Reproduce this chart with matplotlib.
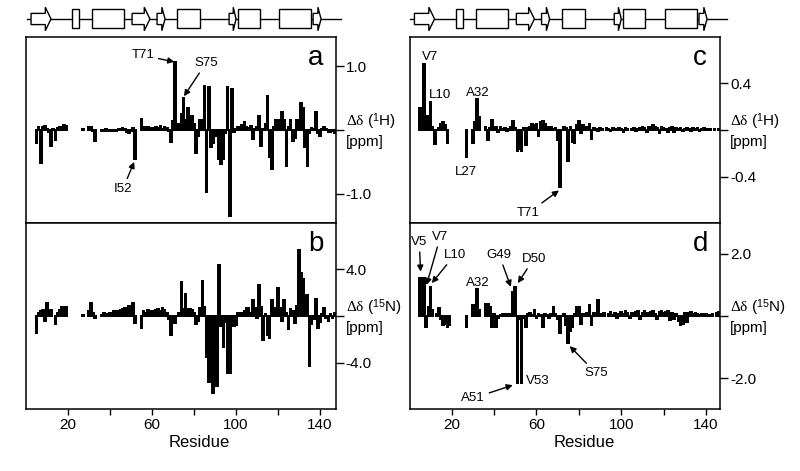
import matplotlib.pyplot as plt
import numpy as np
from matplotlib.patches import Polygon, Rectangle

plt.rcParams['font.family'] = ['Liberation Sans', 'DejaVu Sans']
plt.rcParams['mathtext.fontset'] = 'custom'
plt.rcParams['mathtext.rm'] = 'Liberation Serif'
plt.rcParams['mathtext.it'] = 'Liberation Serif:italic'
plt.rcParams['mathtext.sf'] = 'Liberation Sans'

n = np.nan
residues = np.arange(1, 148)

# chemical shift changes, residues 1..147 (nan = not observed)
dh_a = [n, n, n, n, -0.20, 0.05, -0.52, 0.05, 0.06, 0.02,
        -0.03, -0.25, 0.02, -0.15, 0.03, 0.05, 0.04, 0.08, 0.07, n,
        n, n, n, n, n, n, 0.01, n, n, 0.05,
        0.04, -0.02, -0.17, n, n, -0.02, -0.01, 0.01, -0.01, -0.02,
        -0.02, -0.02, -0.01, 0.01, 0.02, 0.03, 0.02, -0.03, -0.04, -0.02,
        0.03, -0.45, n, n, 0.17, 0.05, 0.04, 0.04, 0.02, 0.03,
        0.02, 0.05, 0.03, 0.06, 0.02, 0.04, 0.03, -0.02, -0.19, 0.14,
        1.07, n, 0.10, 0.25, 0.51, 0.15, 0.35, 0.20, 0.22, 0.10,
        -0.36, -0.10, 0.15, 0.15, 0.69, -0.98, 0.67, -0.27, -0.20, -0.05,
        -0.10, -0.45, -0.53, -0.45, -0.05, 0.67, -1.35, 0.64, -0.03, 0.02,
        0.05, 0.03, 0.08, 0.13, 0.05, 0.03, 0.06, -0.14, 0.02, 0.05,
        0.22, -0.25, 0.02, 0.10, 0.54, -0.43, -0.61, 0.05, 0.15, 0.15,
        0.05, 0.28, 0.15, -0.56, 0.05, 0.15, -0.17, -0.12, 0.15, 0.05,
        0.42, 0.34, -0.27, -0.56, -0.05, 0.03, 0.02, 0.29, -0.05, -0.10,
        0.02, 0.05, 0.01, -0.03, -0.03, -0.02, -0.05]

dn_a = [n, n, n, n, -1.5, 0.3, 0.4, 0.5, -0.4, 1.1,
        n, 0.5, n, -0.7, 0.3, 0.5, 0.8, 0.5, 0.8, n,
        n, n, n, n, n, n, 0.05, n, n, 0.4,
        1.1, 0.3, -0.15, n, n, 0.1, 0.3, 0.2, 0.2, 0.3,
        0.3, 0.4, 0.4, 0.4, 0.5, 0.6, 0.7, 0.6, 0.9, 0.7,
        1.15, -0.6, n, n, -1.0, 0.4, 0.3, 0.5, 0.2, 0.4,
        0.3, 0.5, 0.6, 0.4, 0.7, 0.5, 0.3, -0.3, -1.6, -0.6,
        -0.6, n, 0.3, 2.9, 0.6, 1.9, 0.6, 0.6, 0.5, 0.3,
        -0.7, -0.4, 0.7, 3.0, 0.8, -3.5, -5.7, -3.5, -6.6, -3.5,
        -6.0, 4.4, -0.9, -2.7, -0.5, -4.9, -4.9, -0.9, -0.9, -0.8,
        0.3, 0.2, 0.3, 0.4, 0.7, 0.7, 0.3, 1.4, 0.7, -0.2,
        2.7, 0.8, -2.1, 0.2, -1.6, -1.9, 1.4, 0.7, 0.7, 2.4,
        0.7, -0.4, 1.4, 0.3, -1.1, 0.6, 0.4, -0.6, 0.9, 5.7,
        3.7, 3.2, 1.8, 1.8, -4.3, -0.7, -0.3, 1.5, -1.0, -0.5,
        0.2, 0.7, -0.2, -0.4, 0.2, -0.2, 0.3]

dh_b = [n, n, n, n, 0.19, 0.19, 0.57, 0.12, 0.12, 0.24,
        0.03, -0.12, n, 0.02, 0.05, 0.07, 0.04, -0.11, n, n,
        n, n, n, n, n, n, -0.23, n, n, -0.11,
        0.07, 0.27, 0.11, n, n, 0.03, -0.09, 0.02, 0.09, 0.01,
        0.03, -0.02, 0.03, 0.01, 0.02, -0.01, 0.01, 0.03, 0.08, 0.02,
        -0.18, -0.16, -0.18, 0.02, -0.13, 0.02, 0.03, 0.05, 0.04, 0.05,
        -0.05, 0.07, 0.08, 0.05, 0.03, 0.02, 0.03, 0.01, 0.02, -0.09,
        -0.49, n, 0.03, 0.02, -0.27, 0.03, -0.10, -0.11, 0.04, 0.08,
        -0.03, 0.04, 0.02, 0.03, 0.05, -0.08, 0.02, 0.01, -0.01, 0.02,
        0.01, n, 0.02, 0.01, -0.01, 0.02, n, 0.01, 0.02, 0.01,
        -0.02, 0.02, 0.01, n, 0.01, 0.02, -0.01, 0.01, 0.02, 0.03,
        0.02, -0.02, 0.03, 0.01, 0.04, 0.03, 0.02, -0.03, 0.03, 0.02,
        0.01, -0.02, 0.02, 0.03, -0.02, 0.02, 0.01, 0.02, -0.01, 0.01,
        0.02, 0.01, -0.01, 0.02, 0.01, 0.02, -0.01, 0.01, 0.02, 0.01,
        n, 0.005, n, 0.005, n, 0.005, n]

dn_b = [n, n, n, n, 1.22, 1.22, 1.22, -0.35, 0.3, 0.95,
        0.2, n, 0.05, 0.25, -0.1, -0.3, -0.25, -0.35, -0.3, n,
        n, n, n, n, n, n, -0.35, n, n, 0.35,
        0.1, 0.87, 0.2, n, n, 0.4, 0.4, 0.28, -0.35, 0.05,
        -0.36, -0.05, 0.03, 0.05, 0.08, 0.05, 0.08, 0.03, 0.78, 0.95,
        -2.17, -0.1, -2.15, -0.05, -0.35, 0.05, 0.1, 0.03, 0.2, -0.05,
        0.05, 0.03, -0.35, 0.05, 0.03, -0.05, 0.05, 0.3, 0.05, -0.1,
        -0.55, n, 0.05, -0.3, -0.88, -0.5, -0.35, 0.05, 0.3, 0.3,
        -0.25, 0.05, 0.02, 0.1, 0.35, -0.3, 0.1, 0.05, 0.5, 0.08,
        0.05, 0.1, n, 0.05, 0.12, 0.03, 0.1, -0.05, 0.08, 0.12,
        0.05, 0.15, 0.1, -0.08, 0.1, 0.05, 0.12, 0.15, -0.1, 0.1,
        0.15, 0.1, 0.05, 0.12, 0.15, 0.08, -0.1, 0.12, 0.15, 0.1,
        0.12, 0.15, -0.12, 0.1, -0.1, 0.08, -0.15, -0.3, -0.25, 0.1,
        -0.18, 0.1, 0.12, 0.08, 0.1, 0.05, 0.03, 0.05, 0.02, 0.05,
        n, 0.03, 0.05, n, 0.1, 0.12, n]

# secondary structure elements along the sequence
ss_kind = ['strand', 'helix', 'helix', 'strand', 'strand', 'helix',
           'strand', 'helix', 'helix', 'strand']
ss_start = [2.4, 21.9, 31.4, 50.5, 62.4, 71.9, 96.7, 100.9, 120.5, 136.7]
ss_end = [11.9, 25.2, 46.7, 59.0, 66.2, 82.9, 100.0, 111.4, 135.7, 140.5]

# labelled residues: (text, bar x, bar y, text x, text y, arrow)
notes_a = [('T71', 70.6, 1.07, 55.7, 1.17, True),
           ('S75', 75.2, 0.53, 85.7, 1.05, True),
           ('I52', 51.5, -0.50, 46.2, -0.92, True)]
notes_b = []
notes_c = [('V7', 0, 0, 9.6, 0.63, False),
           ('L10', 0, 0, 14.4, 0.30, False),
           ('A32', 0, 0, 32.1, 0.32, False),
           ('L27', 0, 0, 26.9, -0.36, False),
           ('T71', 70.6, -0.52, 56.3, -0.71, True)]
notes_d = [('V5', 5.3, 1.43, 4.7, 2.39, True),
           ('V7', 8.1, 1.0, 14.6, 2.55, True),
           ('L10', 10.6, 1.06, 21.4, 1.97, True),
           ('A32', 0, 0, 32.1, 1.06, False),
           ('G49', 47.9, 0.94, 42.4, 1.97, True),
           ('D50', 51.2, 1.06, 58.7, 1.84, True),
           ('A51', 48.8, -2.23, 30.2, -2.65, True),
           ('V53', 0, 0, 60.6, -2.10, False),
           ('S75', 75.7, -0.97, 88.0, -1.84, True)]

fig = plt.figure(figsize=(8, 4.71), dpi=100)

col_x = [0.0325, 0.513]
col_xlim = [(0, 147.6), (0.5, 146.8)]
top_y, bot_y, ph = 0.5265, 0.1316, 0.395

panels = [
    (0, top_y, dh_a, 1.46, [-1.0, 0, 1.0], ['-1.0', '', '1.0'], '1', 'H', 'a', notes_a),
    (0, bot_y, dn_a, 8.0, [-4.0, 0, 4.0], ['-4.0', '', '4.0'], '15', 'N', 'b', notes_b),
    (1, top_y, dh_b, 0.80, [-0.4, 0, 0.4], ['-0.4', '', '0.4'], '1', 'H', 'c', notes_c),
    (1, bot_y, dn_b, 3.0, [-2.0, 0, 2.0], ['-2.0', '', '2.0'], '15', 'N', 'd', notes_d),
]

for col, y0, vals, lim, yt, ytl, iso, nuc, letter, notes in panels:
    ax = fig.add_axes([col_x[col], y0, 0.3875, ph])
    v = np.array(vals, dtype=float)
    ok = ~np.isnan(v)
    ax.bar(residues[ok], v[ok], width=0.8, color='black', edgecolor='black',
           linewidth=0.2, antialiased=False)
    ax.set_xlim(*col_xlim[col])
    ax.set_ylim(-lim, lim)
    for s in ax.spines.values():
        s.set_linewidth(1.1)
    ax.yaxis.tick_right()
    ax.set_yticks(yt)
    ax.set_yticklabels(ytl)
    ax.tick_params(axis='y', direction='out', length=5.5, width=1, pad=1.5, labelsize=11)
    if y0 == bot_y:
        ax.set_xticks([20, 60, 100, 140])
        ax.set_xticks([40, 80, 120], minor=True)
        ax.tick_params(axis='x', which='both', direction='out', length=4.5, width=1, labelsize=11, pad=2)
        ax.set_xlabel('Residue', fontsize=12, labelpad=1)
        ax.xaxis.set_label_coords(0.56, -0.14)
    else:
        ax.set_xticks([])
    ax.text(1.032, 0.5, '$\\mathrm{\\Delta\\delta}$ ($^{\\mathsf{%s}}$%s)\n[ppm]' % (iso, nuc),
            transform=ax.transAxes, ha='left', va='center', fontsize=11, linespacing=1.35)
    ax.text(0.935, 0.885, letter, transform=ax.transAxes, ha='center', va='center', fontsize=20)
    for lab, bx, by, tx, ty, arrow in notes:
        if arrow:
            ax.annotate(lab, xy=(bx, by), xytext=(tx, ty), ha='center', va='center', fontsize=9.5,
                        arrowprops=dict(arrowstyle='-|>', color='black', lw=1.0,
                                        mutation_scale=9, shrinkA=1, shrinkB=0))
        else:
            ax.text(tx, ty, lab, ha='center', va='center', fontsize=9.5)

    if y0 == top_y:
        ss = fig.add_axes([col_x[col], 0.930, 0.3875, 0.0594])
        ss.set_xlim(*col_xlim[col])
        ss.set_ylim(0, 1)
        ss.axis('off')
        ss.plot([0.5, 150], [0.5, 0.5], color='black', lw=1.0, clip_on=False, zorder=1)
        for kind, a, b in zip(ss_kind, ss_start, ss_end):
            if kind == 'helix':
                ss.add_patch(Rectangle((a, 0.16), b - a, 0.68, facecolor='white',
                                       edgecolor='black', lw=1.0, zorder=2))
            else:
                head = min(2.7, 0.4 * (b - a))
                pts = [(a, 0.3), (b - head, 0.3), (b - head, 0.08), (b, 0.5),
                       (b - head, 0.92), (b - head, 0.7), (a, 0.7)]
                ss.add_patch(Polygon(pts, closed=True, facecolor='white',
                                     edgecolor='black', lw=1.0, zorder=2))

fig.savefig('out.png', dpi=100)
